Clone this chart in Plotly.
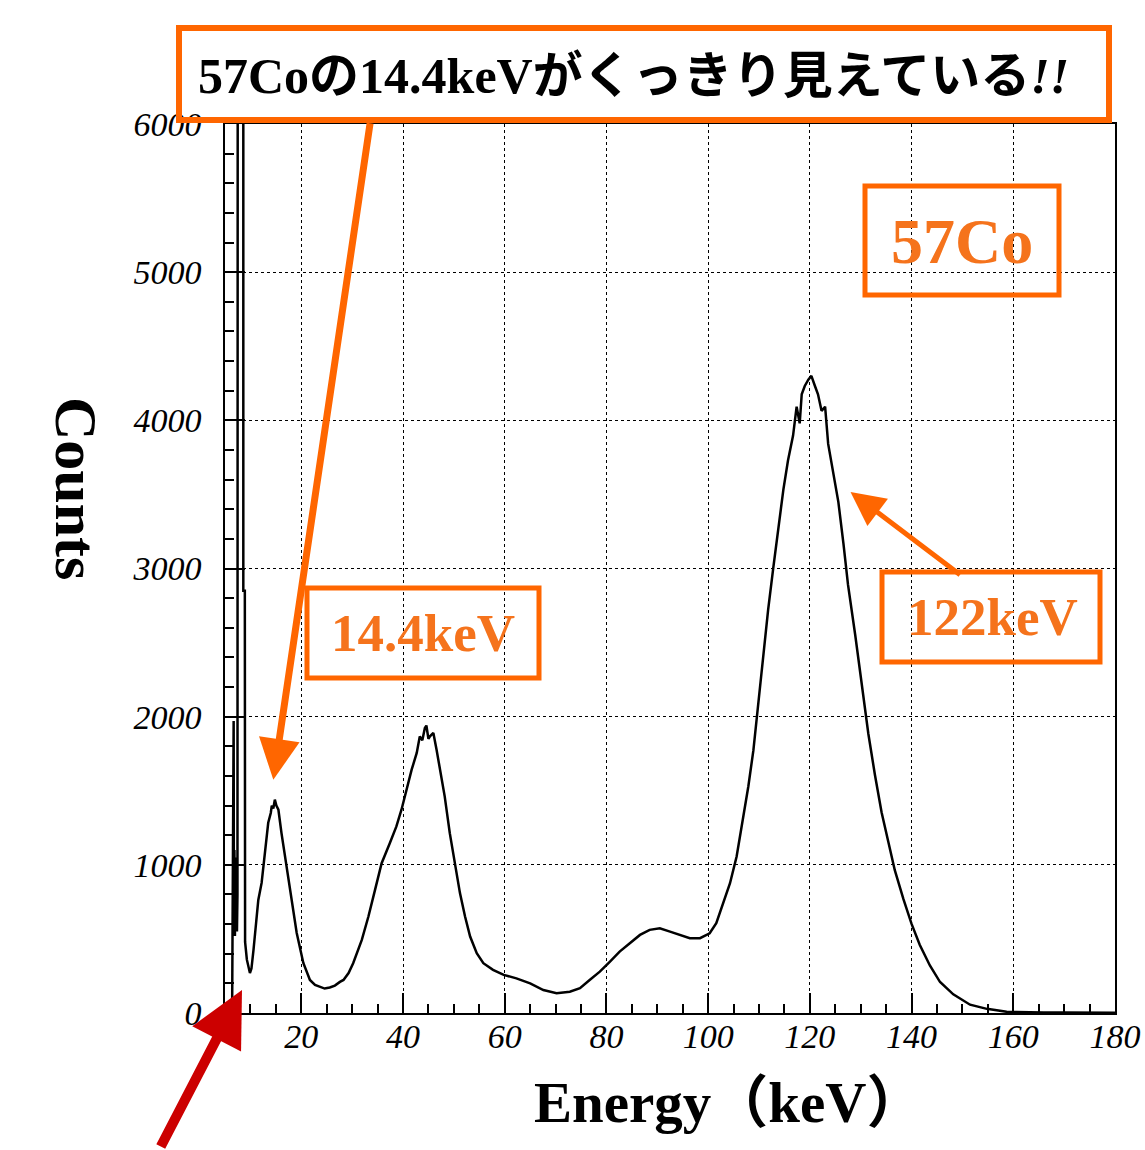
import plotly.graph_objects as go

# ---- data ----
energy_keV = [
    6.4, 6.6, 6.7, 6.75, 6.85, 6.95, 7.05, 7.15, 7.25, 7.35, 7.45, 7.55,
    8.6, 8.6, 8.9, 8.95, 9.3, 9.9, 10.2, 10.6, 11.0, 11.55, 12.2, 12.9,
    13.5, 14.0, 14.2, 14.5, 14.8, 15.1, 15.5, 16.1, 17.1, 18.1, 19.1, 20.4,
    21.7, 22.7, 23.7, 24.6, 25.6, 26.6, 27.6, 28.3, 29.3, 30.2, 31.9, 33.2,
    34.5, 35.8, 37.4, 38.7, 39.7, 40.7, 41.7, 42.7, 43.3, 43.8, 44.3, 44.6,
    45.0, 45.3, 45.97, 46.6, 47.3, 48.2, 49.2, 50.2, 51.2, 52.2, 53.2, 54.5,
    55.8, 57.7, 59.8, 62.3, 65.0, 67.6, 70.2, 72.8, 74.8, 76.7, 78.7, 80.7,
    82.6, 84.6, 86.6, 88.5, 90.5, 92.5, 94.4, 96.4, 98.4, 100.3, 101.6, 102.9,
    104.3, 105.6, 106.9, 107.9, 108.9, 109.8, 110.8, 111.8, 112.8, 113.8, 114.8, 115.7,
    116.7, 117.4, 118.0, 118.4, 119.0, 119.7, 120.3, 121.0, 121.6, 122.3, 123.0, 123.6,
    124.6, 125.6, 126.6, 127.5, 128.9, 130.2, 131.5, 132.8, 134.1, 135.4, 136.7, 138.4,
    140.0, 141.6, 143.6, 145.6, 148.2, 151.5, 154.8, 158.7, 162.0, 166.0, 170.0, 174.0,
    178.0, 180.0,
]
counts = [
    0, 1970, 1970, 700, 1100, 520, 950, 600, 1050, 550, 800, 12000,
    12000, 2850, 2850, 480, 360, 270, 300, 425, 560, 763, 878, 1100,
    1284, 1350, 1400, 1380, 1440, 1400, 1372, 1216, 986, 763, 540, 338,
    223, 190, 176, 165, 172, 185, 210, 223, 270, 336, 493, 651,
    831, 1011, 1146, 1259, 1372, 1507, 1642, 1755, 1867, 1840, 1924, 1940,
    1850, 1867, 1890, 1777, 1642, 1462, 1214, 1011, 809, 651, 516, 403,
    336, 291, 257, 234, 200, 155, 133, 144, 167, 223, 279, 347,
    414, 471, 527, 561, 572, 549, 527, 505, 505, 538, 606, 741,
    876, 1056, 1326, 1529, 1774, 2081, 2388, 2723, 3003, 3282, 3534, 3729,
    3897, 4092, 3980, 4176, 4232, 4274, 4300, 4232, 4176, 4064, 4092, 3841,
    3645, 3450, 3170, 2891, 2556, 2221, 1885, 1606, 1355, 1159, 964, 768,
    601, 461, 321, 209, 126, 56, 28, 8, 5, 3, 4, 2,
    3, 2,
]

x_tickvals = [20, 40, 60, 80, 100, 120, 140, 160, 180]
x_ticktext = ["20", "40", "60", "80", "100", "120", "140", "160", "180"]
y_tickvals = [0, 1000, 2000, 3000, 4000, 5000, 6000]
y_ticktext = ["0", "1000", "2000", "3000", "4000", "5000", "6000"]

title_text = "57Coの14.4keVがくっきり見えている<i>!!</i>"
x_title = "Energy（keV）"
y_title = "Counts"
label_source = "57Co"
label_low = "14.4keV"
label_high = "122keV"

ORANGE = "#FF6600"
ORANGE_TXT = "#F5731C"
SERIF = "Liberation Serif, Noto Sans CJK JP, serif"

fig = go.Figure()
fig.add_trace(go.Scatter(
    x=energy_keV, y=counts, mode="lines",
    line=dict(color="black", width=2.5),
    hoverinfo="skip",
))

tickfont = dict(family="Liberation Serif", size=34, color="black", style="italic")

fig.update_layout(
    width=1145, height=1150,
    margin=dict(l=225, r=30, t=124, b=137),
    plot_bgcolor="white", paper_bgcolor="white",
    showlegend=False,
    xaxis=dict(
        range=[5, 180], tickmode="array", tickvals=x_tickvals, ticktext=x_ticktext,
        ticks="inside", ticklen=20, tickwidth=1.5, tickcolor="black",
        showline=True, linecolor="black", linewidth=1.5, mirror=True,
        showgrid=True, gridcolor="black", gridwidth=1, griddash="3px,3px",
        zeroline=False, tickfont=tickfont, ticklabelstandoff=-8,
        automargin=False, ticklabeloverflow="allow",
        minor=dict(tickmode="linear", tick0=0, dtick=5, ticks="inside", ticklen=9,
                   tickwidth=1.5, tickcolor="black", showgrid=False),
    ),
    yaxis=dict(
        range=[0, 6000], tickmode="array", tickvals=y_tickvals, ticktext=y_ticktext,
        ticks="inside", ticklen=20, tickwidth=1.5, tickcolor="black",
        showline=True, linecolor="black", linewidth=1.5, mirror=True,
        showgrid=True, gridcolor="black", gridwidth=1, griddash="3px,3px",
        zeroline=False, tickfont=tickfont, ticklabelstandoff=15,
        automargin=False, ticklabeloverflow="allow",
        minor=dict(tickmode="linear", tick0=0, dtick=200, ticks="inside", ticklen=9,
                   tickwidth=1.5, tickcolor="black", showgrid=False),
    ),
)

# plot area: x 225..1115 px, y 124..1013 px
PW = 890.0

def px(xpix):
    return (xpix - 225) / PW

def py(ypix):
    return (1013 - ypix) / 889.0

def box(x0, y0, x1, y1, w):
    fig.add_shape(type="rect", xref="paper", yref="paper",
                  x0=px(x0), x1=px(x1), y0=py(y1), y1=py(y0),
                  line=dict(color=ORANGE, width=w), fillcolor="rgba(0,0,0,0)", layer="above")

# boxes
box(179, 28, 1109, 120, 6)
box(307, 588, 539, 678, 5)
box(882, 572, 1100, 662, 5)
box(865, 186, 1059, 295, 5)

# texts
fig.add_annotation(xref="paper", yref="paper", x=px(633), y=py(76), text=title_text,
                   showarrow=False, xanchor="center", yanchor="middle",
                   font=dict(family=SERIF, size=50, color="black", weight="bold"))
fig.add_annotation(xref="paper", yref="paper", x=px(423), y=py(633), text=label_low,
                   showarrow=False, xanchor="center", yanchor="middle",
                   font=dict(family=SERIF, size=53, color=ORANGE_TXT, weight="bold"))
fig.add_annotation(xref="paper", yref="paper", x=px(992), y=py(617), text=label_high,
                   showarrow=False, xanchor="center", yanchor="middle",
                   font=dict(family=SERIF, size=53, color=ORANGE_TXT, weight="bold"))
fig.add_annotation(xref="paper", yref="paper", x=px(962), y=py(241), text=label_source,
                   showarrow=False, xanchor="center", yanchor="middle",
                   font=dict(family=SERIF, size=64, color=ORANGE_TXT, weight="bold"))

# axis titles
fig.add_annotation(xref="paper", yref="paper", x=px(728), y=py(1102), text=x_title,
                   showarrow=False, xanchor="center", yanchor="middle",
                   font=dict(family=SERIF, size=57, color="black", weight="bold"))
fig.add_annotation(xref="paper", yref="paper", x=px(76), y=py(488), text=y_title,
                   showarrow=False, xanchor="center", yanchor="middle", textangle=90,
                   font=dict(family=SERIF, size=60, color="black", weight="bold"))

# arrows
fig.add_annotation(x=14.5, y=1574, xref="x", yref="y", text="", showarrow=True,
                   ax=97, ay=-658, arrowhead=2, arrowwidth=7, arrowsize=1.17,
                   arrowcolor=ORANGE)
fig.add_annotation(x=128.0, y=3517, xref="x", yref="y", text="", showarrow=True,
                   ax=111, ay=84, arrowhead=2, arrowwidth=5, arrowsize=1.36,
                   arrowcolor=ORANGE)
fig.add_annotation(x=8.34, y=155, xref="x", yref="y", text="", showarrow=True,
                   ax=-82, ay=158, arrowhead=2, arrowwidth=10, arrowsize=1.1,
                   arrowcolor="#CC0000")

fig.write_html("out.html")
